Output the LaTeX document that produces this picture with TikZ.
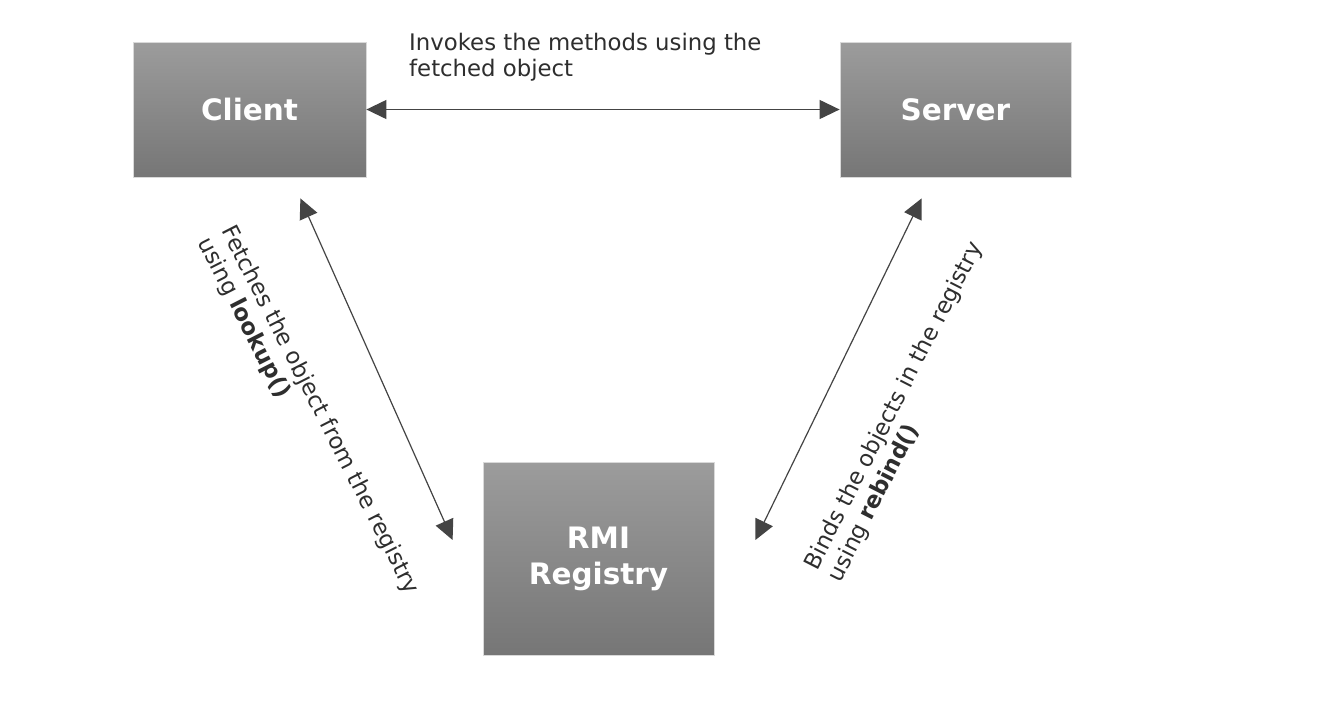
\documentclass[tikz,border=0pt]{standalone}
\usepackage{fontspec}
\setmainfont{DejaVu Sans}
\usetikzlibrary{arrows.meta}
\definecolor{boxtop}{HTML}{9C9C9C}
\definecolor{boxbot}{HTML}{767676}
\definecolor{arrowc}{HTML}{444444}
\definecolor{txt}{HTML}{2E2E2E}
\begin{document}
\begin{tikzpicture}[x=1pt,y=-1pt,
  box/.style={draw=gray!30, line width=0.8pt, top color=boxtop, bottom color=boxbot,
    text=white, font=\bfseries\fontsize{29.5}{36}\selectfont, align=center, inner sep=0pt},
  conn/.style={draw=arrowc, line width=1.2pt,
    {Triangle[length=20pt,width=19pt]}-{Triangle[length=20pt,width=19pt]}},
  lbl/.style={text=txt, font=\fontsize{22.8}{26}\selectfont, align=left, inner sep=0pt}]
\useasboundingbox[fill=white] (0,0) rectangle (1335,702);
\node[box, minimum width=233pt, minimum height=135pt] (client) at (249.5,109.5) {Client};
\node[box, minimum width=231pt, minimum height=135pt] (server) at (955.5,109.5) {Server};
\node[box, minimum width=231pt, minimum height=193pt] (reg) at (598.5,558.5) {RMI\\Registry};
\draw[conn] (client.east) -- (server.west);
\draw[conn] ([shift={(-66,21)}]client.south east) -- ([shift={(-30,-18.5)}]reg.west);
\draw[conn] ([shift={(82,21)}]server.south west) -- ([shift={(41,-18.5)}]reg.east);
\node[lbl, anchor=north west] (top) at (409,33) {Invokes the methods using the\\fetched object};
\node[lbl, rotate=-63] (left) at (308,416) {Fetches the object from the registry\\using \textbf{lookup()}};
\node[lbl, rotate=63] (right) at (906,412) {Binds the objects in the registry\\using \textbf{rebind()}};
\end{tikzpicture}
\end{document}
